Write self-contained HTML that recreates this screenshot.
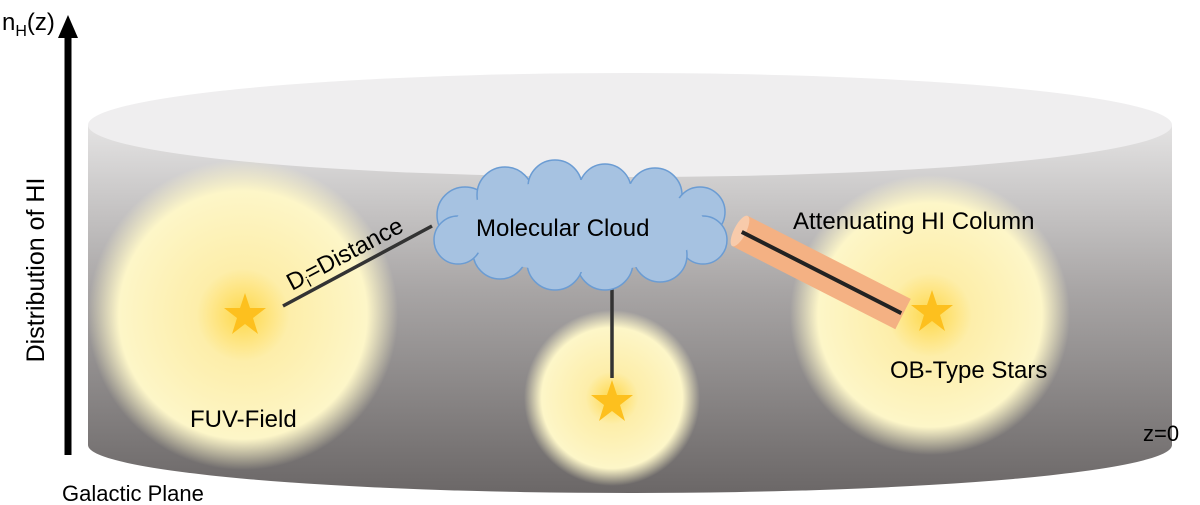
<!DOCTYPE html>
<html><head><style>body{margin:0;background:#fff}svg{display:block}text{font-family:"Liberation Sans",sans-serif;fill:#000}</style></head><body>
<svg width="1200" height="505" viewBox="0 0 1200 505">
<defs>
<linearGradient id="side" x1="0" y1="0" x2="0" y2="1"><stop offset="0" stop-color="#e4e3e3"/><stop offset="0.45" stop-color="#a8a5a5"/><stop offset="1" stop-color="#6b6767"/></linearGradient>
<radialGradient id="glow"><stop offset="0" stop-color="#ffd84a"/><stop offset="0.3" stop-color="#fdeeaa"/><stop offset="0.8" stop-color="#fdf6c8"/><stop offset="1" stop-color="#fdf6c8" stop-opacity="0"/></radialGradient>
</defs>
<path d="M88,125 L88,445 A542,48 0 0 0 1172,445 L1172,125 Z" fill="url(#side)"/>
<ellipse cx="630" cy="125" rx="542" ry="52" fill="#efeeef"/>
<circle cx="243" cy="315" r="155" fill="url(#glow)"/>
<circle cx="612" cy="398" r="88" fill="url(#glow)"/>
<circle cx="930" cy="315" r="140" fill="url(#glow)"/>
<g fill="#fdc01e">
<polygon points="245,293 250,308 266,308 253,318 258,334 245,324 232,334 237,318 224,308 240,308"/>
<polygon points="612,380 617,395 633,395 620,405 625,421 612,411 599,421 604,405 591,395 607,395"/>
<polygon points="932,290 937,305 953,305 940,315 945,331 932,321 919,331 924,315 911,305 927,305"/>
</g>
<line x1="283" y1="306" x2="432" y2="226" stroke="#333" stroke-width="3.5"/>
<line x1="612" y1="285" x2="612" y2="378" stroke="#333" stroke-width="3.5"/>
<g fill="#a6c2e1" stroke="#6b9cd3" stroke-width="1.5">
<circle cx="465" cy="215" r="28"/><circle cx="505" cy="195" r="28"/><circle cx="555" cy="187" r="27"/><circle cx="605" cy="190" r="26"/><circle cx="655" cy="195" r="27"/><circle cx="700" cy="212" r="25"/><circle cx="703" cy="240" r="24"/><circle cx="660" cy="255" r="27"/><circle cx="605" cy="262" r="28"/><circle cx="555" cy="262" r="28"/><circle cx="500" cy="252" r="27"/><circle cx="458" cy="240" r="24"/>
</g>
<ellipse cx="580" cy="226" rx="125" ry="46" fill="#a6c2e1"/>
<g transform="rotate(27 740 231)">
<rect x="740" y="214" width="183" height="34" fill="#f4b183"/>
<ellipse cx="740" cy="231" rx="6" ry="17" fill="#f8cbab"/>
<line x1="742" y1="231" x2="921" y2="231" stroke="#222" stroke-width="4"/>
</g>
<line x1="68" y1="455" x2="68" y2="35" stroke="#000" stroke-width="7"/>
<polygon points="58,38 78,38 68,15" fill="#000"/>
<text x="2" y="30" font-size="24">n<tspan font-size="16" dy="6">H</tspan><tspan dy="-6">(z)</tspan></text>
<text transform="translate(44,270) rotate(-90)" text-anchor="middle" font-size="25">Distribution of HI</text>
<text x="62" y="501" font-size="22">Galactic Plane</text>
<text x="1143" y="441" font-size="22">z=0</text>
<text x="190" y="427" font-size="24">FUV-Field</text>
<text x="890" y="378" font-size="24">OB-Type Stars</text>
<text x="793" y="229" font-size="24">Attenuating HI Column</text>
<text x="476" y="236" font-size="24">Molecular Cloud</text>
<text transform="translate(292,291) rotate(-28)" font-size="24">D<tspan font-size="15" dy="5">i</tspan><tspan dy="-5">=Distance</tspan></text>
</svg>
</body></html>
